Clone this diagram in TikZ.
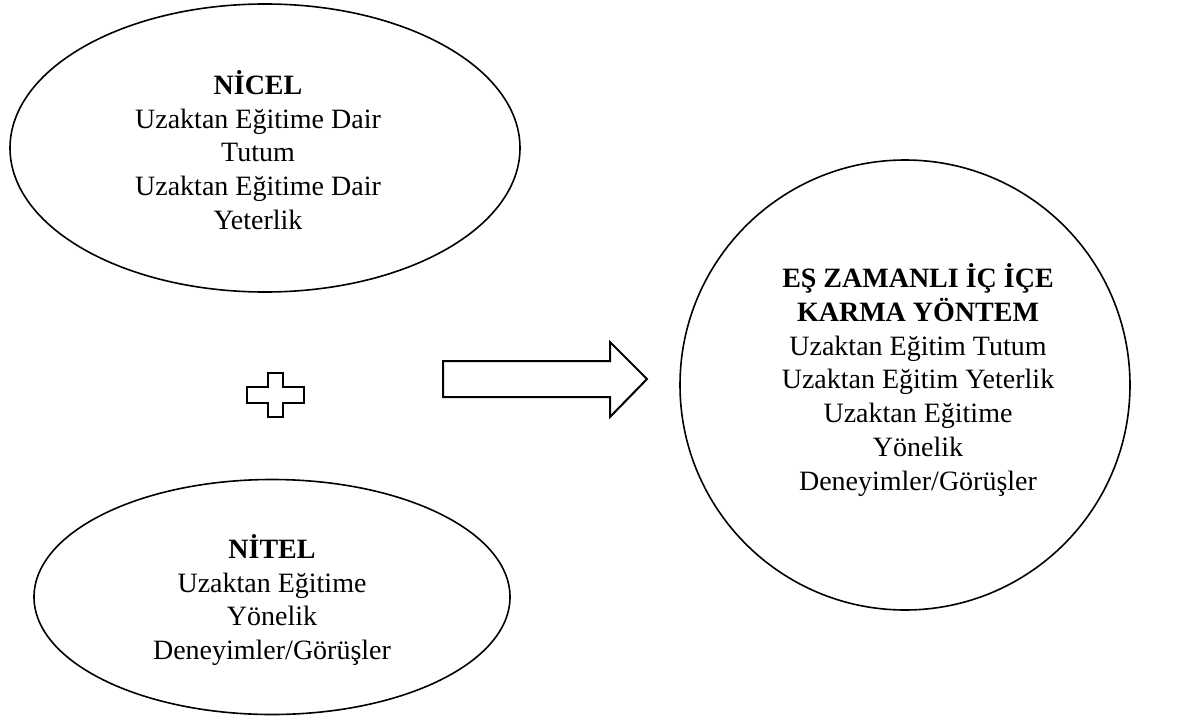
\documentclass[tikz,border=0pt]{standalone}
\usepackage{fontspec}
\setmainfont{Liberation Serif}
\usetikzlibrary{shapes.geometric}
\begin{document}
\begin{tikzpicture}[x=1pt,y=-1pt,
  shapeline/.style={draw=black,line width=1.6pt},
  txt/.style={align=center,font=\fontsize{28}{33.8}\selectfont,inner sep=0pt}]
\useasboundingbox (0,0) rectangle (1179,720);
\node[shapeline,ellipse,minimum width=510pt,minimum height=288pt,inner sep=0pt] (nicel) at (265,148) {};
\node[txt] (nicelt) at (258,150) {\textbf{NİCEL}\\Uzaktan Eğitime Dair\\Tutum\\Uzaktan Eğitime Dair\\Yeterlik};
\node[shapeline,ellipse,minimum width=476pt,minimum height=235pt,inner sep=0pt] (nitel) at (272,597) {};
\node[txt] (nitelt) at (272,600) {\textbf{NİTEL}\\Uzaktan Eğitime\\Yönelik\\Deneyimler/Görüşler};
\node[shapeline,circle,minimum size=450pt,inner sep=0pt] (karma) at (905,385) {};
\node[txt] (karmat) at (918,380) {\textbf{EŞ ZAMANLI İÇ İÇE}\\\textbf{KARMA YÖNTEM}\\Uzaktan Eğitim Tutum\\Uzaktan Eğitim Yeterlik\\Uzaktan Eğitime\\Yönelik\\Deneyimler/Görüşler};
\draw[line width=2pt,line join=miter] (443,361) -- (610,361) -- (610,342) -- (647,379) -- (610,417) -- (610,397) -- (443,397) -- cycle;
\draw[line width=2.5pt,line join=miter] (268,373) -- (283,373) -- (283,387) -- (304,387) -- (304,403) -- (283,403) -- (283,417) -- (268,417) -- (268,403) -- (247,403) -- (247,387) -- (268,387) -- cycle;
\end{tikzpicture}
\end{document}
